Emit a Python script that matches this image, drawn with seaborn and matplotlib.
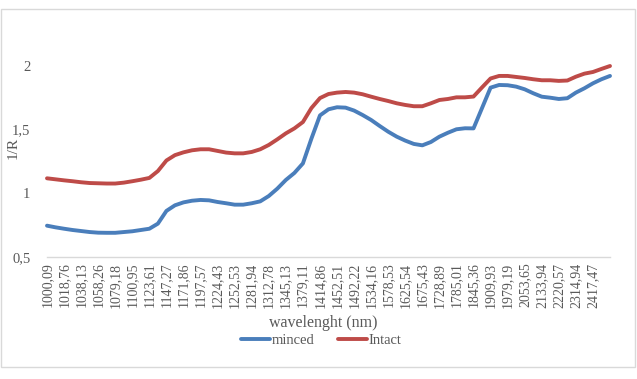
import numpy as np
import pandas as pd
import matplotlib
matplotlib.use("Agg")
import matplotlib.pyplot as plt
import seaborn as sns
from matplotlib.patches import Rectangle

# data

wavelength_labels = [
    "1000,09", "1018,76", "1038,13", "1058,26", "1079,18", "1100,95", "1123,61",
    "1147,27", "1171,86", "1197,57", "1224,43", "1252,53", "1281,94", "1312,78",
    "1345,13", "1379,11", "1414,86", "1452,51", "1492,22", "1534,16", "1578,53",
    "1625,54", "1675,43", "1728,89", "1785,01", "1845,36", "1909,93", "1979,19",
    "2053,65", "2133,94", "2220,57", "2314,94", "2417,47",
]

# sample index along the axis (two readings per labelled category)
sample_pos = np.arange(0, 33.5, 0.5)

minced = [
    0.746, 0.733, 0.722, 0.712, 0.704, 0.696, 0.691, 0.690, 0.690, 0.696,
    0.702, 0.712, 0.722, 0.762, 0.862, 0.906, 0.929, 0.942, 0.948, 0.945,
    0.932, 0.922, 0.911, 0.911, 0.922, 0.937, 0.979, 1.037, 1.105, 1.160,
    1.235, 1.430, 1.612, 1.660, 1.676, 1.673, 1.650, 1.615, 1.576, 1.529,
    1.484, 1.445, 1.414, 1.388, 1.377, 1.403, 1.445, 1.476, 1.503, 1.511,
    1.510, 1.670, 1.830, 1.851, 1.849, 1.838, 1.817, 1.786, 1.759, 1.751,
    1.741, 1.747, 1.791, 1.825, 1.864, 1.896, 1.922,
]

intact = [
    1.118, 1.110, 1.102, 1.095, 1.087, 1.081, 1.079, 1.077, 1.077, 1.084,
    1.095, 1.107, 1.121, 1.175, 1.258, 1.300, 1.322, 1.338, 1.346, 1.346,
    1.333, 1.320, 1.314, 1.314, 1.325, 1.346, 1.380, 1.424, 1.471, 1.510,
    1.560, 1.670, 1.748, 1.780, 1.791, 1.796, 1.791, 1.778, 1.759, 1.741,
    1.725, 1.707, 1.694, 1.684, 1.684, 1.707, 1.733, 1.741, 1.754, 1.754,
    1.760, 1.832, 1.902, 1.922, 1.922, 1.914, 1.906, 1.896, 1.888, 1.888,
    1.883, 1.886, 1.916, 1.940, 1.953, 1.977, 2.000,
]

df = pd.DataFrame({
    "pos": np.concatenate([sample_pos, sample_pos]),
    "value": minced + intact,
    "sample": ["minced"] * len(minced) + ["Intact"] * len(intact),
})

# style

sns.set_style("white")
plt.rcParams["font.family"] = ["Liberation Serif", "DejaVu Serif"]
grey = "#595959"

fig = plt.figure(figsize=(6.37, 3.79), dpi=100)
ax = fig.add_axes([47 / 637, 1 - 257 / 379, 563 / 637, 191 / 379])

sns.lineplot(data=df, x="pos", y="value", hue="sample",
             palette={"minced": "#4A7EBB", "Intact": "#BE4B48"},
             linewidth=2.8, ax=ax, estimator=None, sort=False)
for line in ax.get_lines():
    line.set_clip_on(False)
    line.set_solid_joinstyle("round")
    line.set_solid_capstyle("round")

ax.set_xlim(0, 33)
ax.set_ylim(0.5, 2.0)
ax.set_xticks(range(len(wavelength_labels)))
ax.set_xticklabels(wavelength_labels, rotation=90, fontsize=10, color=grey)
ax.set_yticks([0.5, 1, 1.5, 2])
ax.set_yticklabels(["0,5", "1", "1,5", "2"], fontsize=10.5, color=grey)
ax.tick_params(axis="both", length=0)
ax.tick_params(axis="y", pad=12)
ax.tick_params(axis="x", pad=4)

for side in ["top", "right", "left"]:
    ax.spines[side].set_visible(False)
ax.spines["bottom"].set_color("#D9D9D9")
ax.spines["bottom"].set_linewidth(1)

ax.set_xlabel("")
ax.set_ylabel("")
fig.text(323 / 637, 1 - 323 / 379, "wavelenght (nm)", ha="center", va="center",
         fontsize=11.5, color=grey)
fig.text(13 / 637, 1 - 148 / 379, "1/R", ha="center", va="center",
         rotation=90, fontsize=11, color=grey)

sns.move_legend(ax, "center", bbox_to_anchor=(321 / 637, 1 - 340 / 379),
                bbox_transform=fig.transFigure, ncol=2, frameon=False, title=None,
                fontsize=10.5, handlelength=2.0, handletextpad=0.1,
                columnspacing=1.6, labelcolor=grey)

# chart border
fig.patches.append(Rectangle((0.5 / 637, 1 - 367 / 379), 634.5 / 637, 358 / 379,
                             transform=fig.transFigure, fill=False,
                             edgecolor="#D9D9D9", linewidth=1))

fig.savefig("out.png", dpi=100)
